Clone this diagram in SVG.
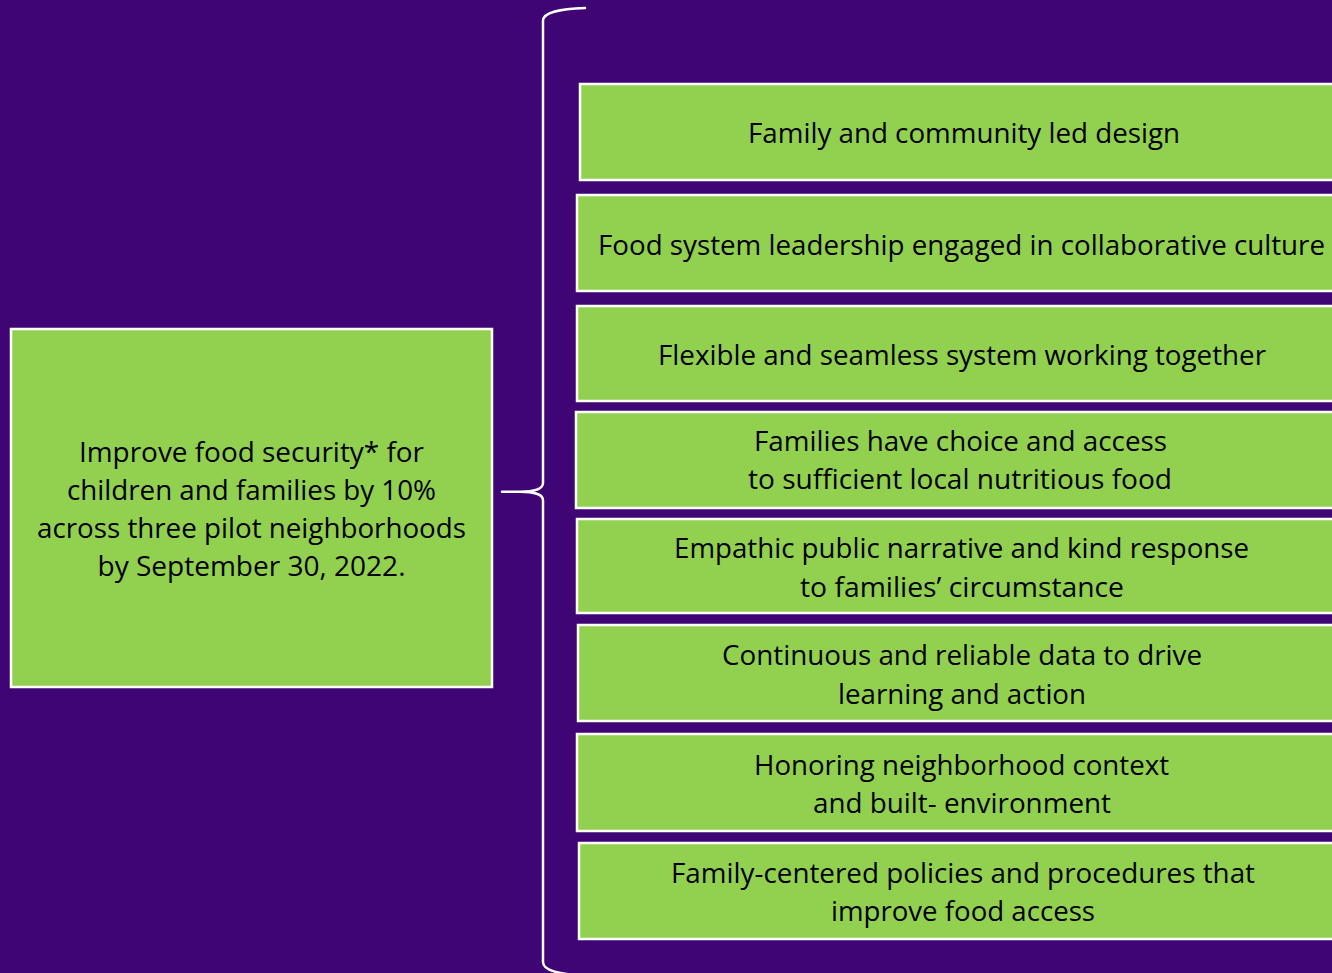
<svg xmlns="http://www.w3.org/2000/svg" width="1332" height="973" viewBox="0 0 1332 973">
  <style>
    .bg { fill: #3F0575; }
    .box { fill: #92D050; stroke: #FFFFFF; stroke-width: 2.5; }
    .lbl { font-family: "Open Sans", "Liberation Sans", sans-serif; font-size: 26.5px; fill: #000000; text-anchor: middle; }
    .brace { fill: none; stroke: #FFFFFF; stroke-width: 2.5; stroke-linecap: round; }
  </style>
  <rect class="bg" x="0" y="0" width="1332" height="973"/>

  <g id="connectors">
    <path class="brace" d="M585,8 C560,9 543,12 543,21 L543,483 C543,489 536,491.6 520,491.8 L502,491.8 M520,491.8 C536,492 543,494.5 543,500.5 L543,962 C543,971 560,974 585,976"/>
  </g>

  <g id="goal">
    <rect class="box" x="11" y="329" width="481" height="358"/>
    <text class="lbl" x="251.5" y="462" textLength="345" lengthAdjust="spacingAndGlyphs">Improve food security* for</text>
    <text class="lbl" x="251.5" y="500" textLength="369" lengthAdjust="spacingAndGlyphs">children and families by 10%</text>
    <text class="lbl" x="251.5" y="538" textLength="429" lengthAdjust="spacingAndGlyphs">across three pilot neighborhoods</text>
    <text class="lbl" x="251.5" y="576" textLength="308" lengthAdjust="spacingAndGlyphs">by September 30, 2022.</text>
  </g>

  <g id="driver1">
    <rect class="box" x="580" y="84" width="780" height="96"/>
    <text class="lbl" x="964" y="143" textLength="432" lengthAdjust="spacingAndGlyphs">Family and community led design</text>
  </g>
  <g id="driver2">
    <rect class="box" x="577" y="195" width="780" height="96"/>
    <text class="lbl" x="961.5" y="255" textLength="727" lengthAdjust="spacingAndGlyphs">Food system leadership engaged in collaborative culture</text>
  </g>
  <g id="driver3">
    <rect class="box" x="577" y="306" width="780" height="95"/>
    <text class="lbl" x="962" y="365" textLength="608" lengthAdjust="spacingAndGlyphs">Flexible and seamless system working together</text>
  </g>
  <g id="driver4">
    <rect class="box" x="576" y="412" width="780" height="96"/>
    <text class="lbl" x="960.5" y="451" textLength="413" lengthAdjust="spacingAndGlyphs">Families have choice and access</text>
    <text class="lbl" x="960" y="489" textLength="424" lengthAdjust="spacingAndGlyphs">to sufficient local nutritious food</text>
  </g>
  <g id="driver5">
    <rect class="box" x="577" y="519" width="780" height="94"/>
    <text class="lbl" x="961.5" y="558" textLength="575" lengthAdjust="spacingAndGlyphs">Empathic public narrative and kind response</text>
    <text class="lbl" x="962" y="597" textLength="324" lengthAdjust="spacingAndGlyphs">to families’ circumstance</text>
  </g>
  <g id="driver6">
    <rect class="box" x="578" y="625" width="780" height="96"/>
    <text class="lbl" x="962" y="665" textLength="480" lengthAdjust="spacingAndGlyphs">Continuous and reliable data to drive</text>
    <text class="lbl" x="962" y="704" textLength="248" lengthAdjust="spacingAndGlyphs">learning and action</text>
  </g>
  <g id="driver7">
    <rect class="box" x="577" y="734" width="780" height="97"/>
    <text class="lbl" x="961.5" y="775" textLength="415" lengthAdjust="spacingAndGlyphs">Honoring neighborhood context</text>
    <text class="lbl" x="962" y="813" textLength="298" lengthAdjust="spacingAndGlyphs">and built- environment</text>
  </g>
  <g id="driver8">
    <rect class="box" x="579" y="843" width="780" height="96"/>
    <text class="lbl" x="963" y="883" textLength="584" lengthAdjust="spacingAndGlyphs">Family-centered policies and procedures that</text>
    <text class="lbl" x="963" y="921" textLength="264" lengthAdjust="spacingAndGlyphs">improve food access</text>
  </g>
</svg>
